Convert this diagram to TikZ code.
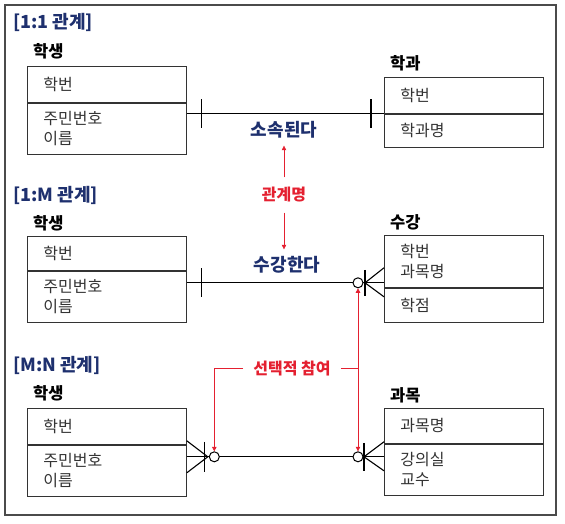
\documentclass[tikz,border=0pt]{standalone}
\usepackage{fontspec}
\setmainfont{Noto Sans CJK KR}
\usetikzlibrary{arrows.meta}

\definecolor{navy}{RGB}{30,48,110}
\definecolor{relred}{RGB}{228,32,48}
\definecolor{framegray}{RGB}{75,75,75}

\tikzset{
    attrbox/.style={draw=black!80, line width=0.8pt, rectangle, anchor=north west,
        minimum width=159pt, text width=127pt, inner xsep=16pt, inner ysep=0pt,
        align=left, text=black!80, font=\fontsize{16}{20}\selectfont},
    entname/.style={anchor=west, inner sep=0pt, font=\bfseries\fontsize{16.5}{18}\selectfont},
    sectitle/.style={anchor=west, inner sep=0pt, text=navy, font=\bfseries\fontsize{18}{20}\selectfont},
    relname/.style={inner sep=7pt, text=navy, font=\bfseries\fontsize{18}{20}\selectfont},
    note/.style={inner xsep=10pt, inner ysep=10pt, text=relred, font=\bfseries\fontsize{16}{18}\selectfont},
    link/.style={line width=1.1pt, black},
    optcirc/.style={circle, draw=black, line width=1pt, fill=white, minimum size=10pt, inner sep=0pt},
    noteline/.style={relred, line width=0.6pt},
    notearrow/.style={noteline, -{Triangle[width=4.5pt,length=4.5pt]}},
}

\begin{document}
\begin{tikzpicture}[x=1pt, y=-1pt] % pixel grid, y grows downward
    \useasboundingbox (0,0) rectangle (565,523);
    \draw[framegray, line width=1.4pt] (5,5) rectangle (556,515);

    % [1:1]
    \node[sectitle] (T1) at (13,22) {[1:1 관계]};
    \node[entname] (N_STU1) at (33,51) {학생};
    \node[attrbox, minimum height=36pt] (STU1_KEY) at (27,66) {학번};
    \node[attrbox, minimum height=51pt] (STU1_ATT) at (STU1_KEY.south west) {주민번호\\이름};
    \node[entname] (N_DEP) at (390,63) {학과};
    \node[attrbox, minimum height=36pt] (DEP_KEY) at (384,77) {학번};
    \node[attrbox, minimum height=33pt] (DEP_ATT) at (DEP_KEY.south west) {학과명};

    \coordinate (A1) at ([shift={(0,11)}]STU1_ATT.north east);
    \coordinate (B1) at (DEP_ATT.north west);
    \draw[link] (A1) -- (B1);
    \draw[link] ([shift={(15,-14.5)}]A1) -- ++(0,29);
    \draw[link] ([shift={(-13,-14.5)}]B1) -- ++(0,29);
    \node[relname] (REL1) at (284,130) {소속된다};

    % [1:M]
    \node[sectitle] (T2) at (13,195) {[1:M 관계]};
    \node[entname] (N_STU2) at (33,223) {학생};
    \node[attrbox, minimum height=34pt] (STU2_KEY) at (27,236) {학번};
    \node[attrbox, minimum height=51pt] (STU2_ATT) at (STU2_KEY.south west) {주민번호\\이름};
    \node[entname] (N_ENR) at (390,222) {수강};
    \node[attrbox, minimum height=52pt] (ENR_KEY) at (384,235) {학번\\과목명};
    \node[attrbox, minimum height=34pt] (ENR_ATT) at (ENR_KEY.south west) {학점};

    \coordinate (A2) at ([shift={(0,12)}]STU2_ATT.north east);
    \coordinate (B2) at ([shift={(0,-5)}]ENR_ATT.north west);
    \coordinate (C2) at ([shift={(-19,0)}]B2);
    \draw[link] (A2) -- (B2);
    \draw[link] ([shift={(15,-14.5)}]A2) -- ++(0,29);
    \draw[link] (C2) -- ++(19,-15) (C2) -- ++(19,14);
    \draw[link] ([shift={(0,-13)}]C2) -- ++(0,26);
    \node[optcirc] (O2) at ([shift={(-26,0)}]B2) {};
    \node[relname] (REL2) at (287,265) {수강한다};

    % [M:N]
    \node[sectitle] (T3) at (13,365) {[M:N 관계]};
    \node[entname] (N_STU3) at (33,393) {학생};
    \node[attrbox, minimum height=36pt] (STU3_KEY) at (27,408) {학번};
    \node[attrbox, minimum height=51pt] (STU3_ATT) at (STU3_KEY.south west) {주민번호\\이름};
    \node[entname] (N_SUB) at (390,395) {과목};
    \node[attrbox, minimum height=35pt] (SUB_KEY) at (384,408) {과목명};
    \node[attrbox, minimum height=51pt] (SUB_ATT) at (SUB_KEY.south west) {강의실\\교수};

    \coordinate (A3) at ([shift={(0,12)}]STU3_ATT.north east);
    \coordinate (B3) at ([shift={(0,13)}]SUB_ATT.north west);
    \coordinate (C3L) at ([shift={(21,0)}]A3);
    \coordinate (C3R) at ([shift={(-20,0)}]B3);
    \draw[link] (A3) -- (B3);
    \draw[link] (C3L) -- ++(-21,-16) (C3L) -- ++(-21,16);
    \draw[link] ([shift={(-3,-15)}]C3L) -- ++(0,30);
    \draw[link] (C3R) -- ++(20,-15) (C3R) -- ++(20,14);
    \draw[link] ([shift={(0,-14)}]C3R) -- ++(0,28);
    \node[optcirc] (O3L) at ([shift={(6.5,0)}]C3L) {};
    \node[optcirc] (O3R) at ([shift={(-26,0)}]B3) {};

    % notes
    \node[note] (RNAME) at (284,195) {관계명};
    \draw[notearrow] (RNAME.north) -- (RNAME.north |- REL1.south);
    \draw[notearrow] (RNAME.south) -- (RNAME.south |- REL2.north);

    \node[note] (OPT) at (292,368) {선택적 참여};
    \coordinate (OPT_R) at (OPT.east -| O2.south);
    \draw[notearrow] (OPT.west) -| (O3L.north);
    \draw[noteline] (OPT.east) -- (OPT_R);
    \draw[notearrow] (OPT_R) -- (O2.south);
    \draw[notearrow] (OPT_R) -- (O3R.north);
\end{tikzpicture}
\end{document}
